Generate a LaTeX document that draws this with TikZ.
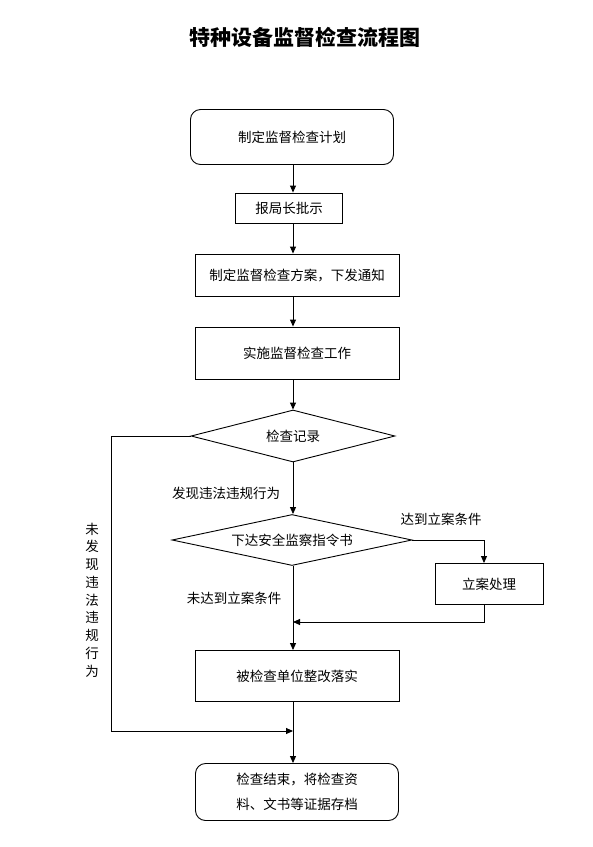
\documentclass[tikz,border=0pt]{standalone}
\usepackage{fontspec}
\newfontfamily\cjk{Noto Sans CJK SC}
\usetikzlibrary{arrows.meta}
\usetikzlibrary{shapes.geometric}
\def\axisX{293}
\def\leftX{111}

\begin{document}
\begin{tikzpicture}[x=1pt,y=-1pt,
    arrowtip/.style={
      -{Triangle[length=7pt,width=6pt]}
    },
    flow/.style={
      draw, line width=0.9pt
    },
    stepbox/.style={
      draw, line width=0.9pt, inner sep=0pt,
      font=\cjk\fontsize{13.5}{16}\selectfont
    },
    roundbox/.style={
      stepbox, rounded corners=10pt
    },
    decision/.style={
      stepbox, diamond, aspect=4
    },
    tag/.style={
      font=\cjk\fontsize{13.5}{16}\selectfont
    }
  ]
    \useasboundingbox (0,0) rectangle (593,847);

    % title
    \node[font=\cjk\bfseries\fontsize{21}{24}\selectfont] (Title) at (305,37) {特种设备监督检查流程图};

    % main steps
    \node[roundbox, minimum width=203pt, minimum height=55pt] (Plan)    at (292,137) {制定监督检查计划};
    \node[stepbox,  minimum width=107pt, minimum height=30pt] (Approve) at (289,208) {报局长批示};
    \node[stepbox,  minimum width=204pt, minimum height=42pt] (Scheme)  at (297,275) {制定监督检查方案，下发通知};
    \node[stepbox,  minimum width=204pt, minimum height=52pt] (Work)    at (297,353) {实施监督检查工作};
    \node[decision, minimum width=204pt, minimum height=52pt] (Record)  at (293,436) {检查记录};
    \node[decision, minimum width=240pt, minimum height=51pt] (Order)   at (292,540) {下达安全监察指令书};
    \node[stepbox,  minimum width=108pt, minimum height=41pt] (Case)    at (489,584) {立案处理};
    \node[stepbox,  minimum width=204pt, minimum height=51pt] (Rectify) at (297,676) {被检查单位整改落实};
    \node[roundbox, minimum width=203pt, minimum height=57pt, align=center,
          font=\cjk\fontsize{13.5}{25}\selectfont] (Archive) at (297,792) {检查结束，将检查资\\料、文书等证据存档};

    % labels
    \node[tag] (Found)    at (226,493) {发现违法违规行为};
    \node[tag] (Reach)    at (441,519) {达到立案条件};
    \node[tag] (NotReach) at (234,598) {未达到立案条件};
    \node[tag, align=center, font=\cjk\fontsize{13.5}{17.75}\selectfont] (NotFound) at (92,600)
      {未\\发\\现\\违\\法\\违\\规\\行\\为};

    % helper points
    \coordinate (axis)   at (\axisX,0);
    \coordinate (left)   at (\leftX,0);
    \coordinate (CaseIn) at (484,0);
    \coordinate (Merge)  at (\axisX,622);
    \coordinate (Join)   at (\axisX,731);

    % arrows
    \draw[flow,arrowtip] (Plan.south -| axis)    -- (Approve.north -| axis);
    \draw[flow,arrowtip] (Approve.south -| axis) -- (Scheme.north -| axis);
    \draw[flow,arrowtip] (Scheme.south -| axis)  -- (Work.north -| axis);
    \draw[flow,arrowtip] (Work.south -| axis)    -- (Record.north);
    \draw[flow,arrowtip] (Record.south)          -- (Order.north -| axis);
    \draw[flow,arrowtip] (Order.east) -| (Case.north -| CaseIn);
    \draw[flow,arrowtip] (Case.south -| CaseIn) |- (Merge);
    \draw[flow,arrowtip] (Order.south -| axis)   -- (Rectify.north -| axis);
    \draw[flow,arrowtip] (Record.west) -- (Record.west -| left) |- (Join);
    \draw[flow,arrowtip] (Rectify.south -| axis) -- (Archive.north -| axis);
  \end{tikzpicture}
\end{document}
